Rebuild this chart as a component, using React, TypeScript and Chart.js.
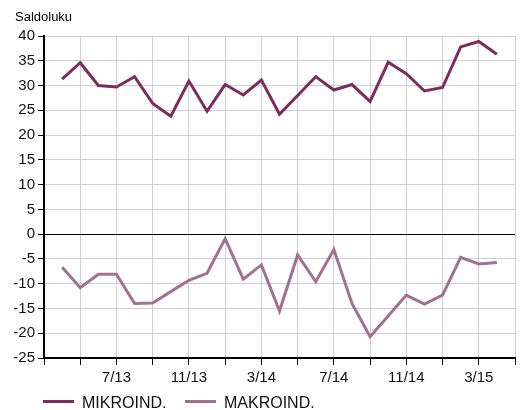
import React, { useEffect, useRef } from "react";
import { Chart, registerables } from "chart.js";

Chart.register(...registerables);

const months = [
  "4/13", "5/13", "6/13", "7/13", "8/13", "9/13", "10/13", "11/13", "12/13",
  "1/14", "2/14", "3/14", "4/14", "5/14", "6/14", "7/14", "8/14", "9/14",
  "10/14", "11/14", "12/14", "1/15", "2/15", "3/15", "4/15",
];
const mikro = [
  31.3, 34.6, 30.0, 29.7, 31.8, 26.4, 23.8, 30.9, 24.8, 30.2, 28.1, 31.1,
  24.2, 28.0, 31.8, 29.1, 30.2, 26.8, 34.7, 32.4, 28.9, 29.6, 37.8, 38.9, 36.3,
];
const makro = [
  -6.7, -10.8, -8.1, -8.1, -14.0, -13.9, -11.6, -9.3, -7.9, -0.9, -9.1, -6.2,
  -15.5, -4.2, -9.6, -3.1, -14.0, -20.7, -16.5, -12.3, -14.1, -12.3, -4.7, -6.0, -5.7,
];
const xTickLabels = ["7/13", "11/13", "3/14", "7/14", "11/14", "3/15"];
const seriesNames = ["MIKROIND.", "MAKROIND."];
const seriesColors = ["#7b2d5e", "#a4708f"];
const yTitle = "Saldoluku";

const FONT = "'Liberation Sans', Arial, Helvetica, sans-serif";

export default function App() {
  const ref = useRef<HTMLCanvasElement | null>(null);

  useEffect(() => {
    document.body.style.margin = "0";
    const canvas = ref.current;
    if (!canvas) return;

    const overlay = {
      id: "overlay",
      afterDraw(chart: any) {
        const ctx = chart.ctx;
        ctx.save();
        ctx.fillStyle = "#000";
        ctx.font = `13px ${FONT}`;
        ctx.textAlign = "left";
        ctx.textBaseline = "alphabetic";
        ctx.fillText(yTitle, 15, 21);
        // legend
        ctx.font = `16px ${FONT}`;
        const starts = [43, 185];
        chart.data.datasets.forEach((ds: any, i: number) => {
          const x0 = starts[i];
          ctx.strokeStyle = ds.borderColor;
          ctx.lineWidth = 3;
          ctx.beginPath();
          ctx.moveTo(x0, 401.5);
          ctx.lineTo(x0 + 31, 401.5);
          ctx.stroke();
          ctx.fillStyle = "#111";
          ctx.fillText(ds.label, x0 + 39, 408);
        });
        ctx.restore();
      },
    };

    const chart = new Chart(canvas, {
      type: "line",
      data: {
        datasets: [
          {
            label: seriesNames[0],
            data: mikro.map((v, i) => ({ x: i, y: v })),
            borderColor: seriesColors[0],
            backgroundColor: seriesColors[0],
            borderWidth: 3,
            pointRadius: 0,
            tension: 0,
          },
          {
            label: seriesNames[1],
            data: makro.map((v, i) => ({ x: i, y: v })),
            borderColor: seriesColors[1],
            backgroundColor: seriesColors[1],
            borderWidth: 3,
            pointRadius: 0,
            tension: 0,
          },
        ],
      },
      options: {
        animation: false,
        responsive: false,
        maintainAspectRatio: false,
        layout: { padding: { left: 0, top: 36, right: 14, bottom: 0 } },
        plugins: {
          legend: { display: false },
          tooltip: { enabled: false },
          title: { display: false },
        },
        scales: {
          x: {
            type: "linear",
            min: -1,
            max: months.length,
            afterBuildTicks(scale: any) {
              const t = [];
              for (let v = -1; v <= months.length; v += 2) t.push({ value: v });
              scale.ticks = t;
            },
            afterFit(scale: any) {
              scale.height = 52;
            },
            ticks: {
              autoSkip: false,
              maxRotation: 0,
              padding: 4,
              color: "#111",
              font: { family: FONT, size: 15 },
              callback(value: any) {
                const lbl = months[value as number];
                return lbl && xTickLabels.includes(lbl) ? lbl : "";
              },
            },
            grid: {
              color: "#d0d0d0",
              lineWidth: 1,
              tickColor: "#000",
              tickLength: 7,
              drawTicks: true,
            },
            border: { color: "#000", width: 2 },
          },
          y: {
            min: -25,
            max: 40,
            afterBuildTicks(scale: any) {
              const t = [];
              for (let v = -25; v <= 40; v += 5) t.push({ value: v });
              scale.ticks = t;
            },
            afterFit(scale: any) {
              scale.width = 44;
            },
            ticks: {
              padding: 3,
              color: "#111",
              font: { family: FONT, size: 15 },
            },
            grid: {
              color: (c: any) => (c.tick && c.tick.value === 0 ? "#000" : "#d0d0d0"),
              lineWidth: 1,
              tickColor: "#000",
              tickLength: 6,
            },
            border: { color: "#000", width: 2 },
          },
        },
      },
      plugins: [overlay],
    });

    return () => chart.destroy();
  }, []);

  return <canvas ref={ref} width={529} height={410} style={{ display: "block" }} />;
}
